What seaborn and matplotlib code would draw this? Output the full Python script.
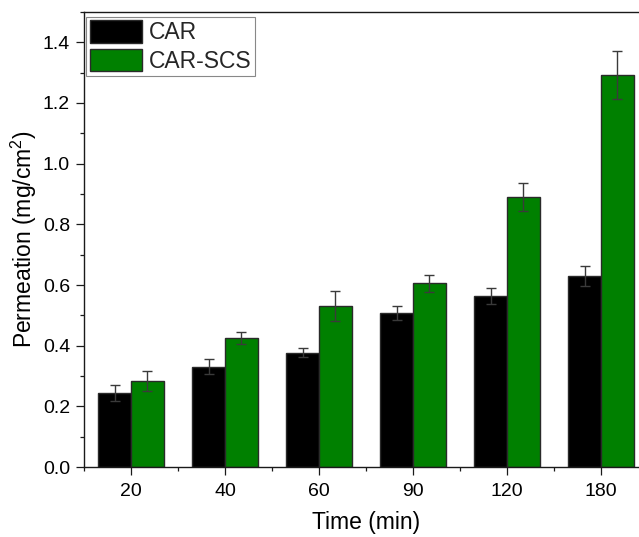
import matplotlib
matplotlib.use("Agg")
import matplotlib.pyplot as plt
from matplotlib.ticker import FixedLocator, MultipleLocator
import numpy as np
import pandas as pd
import seaborn as sns

# Permeation over time for the two formulations
times = ["20", "40", "60", "90", "120", "180"]
car_mean = [0.244, 0.331, 0.377, 0.507, 0.563, 0.629]
car_err = [0.025, 0.026, 0.016, 0.023, 0.026, 0.033]
scs_mean = [0.283, 0.424, 0.531, 0.606, 0.890, 1.292]
scs_err = [0.032, 0.020, 0.050, 0.028, 0.045, 0.080]
groups = ["CAR", "CAR-SCS"]
colors = ["#000000", "#008000"]

df = pd.DataFrame({
    "Time": times * 2,
    "Permeation": car_mean + scs_mean,
    "Group": [groups[0]] * len(times) + [groups[1]] * len(times),
})

sns.set_theme(style="white")
plt.rcParams["font.family"] = ["Liberation Sans", "DejaVu Sans"]
plt.rcParams["mathtext.fontset"] = "custom"
plt.rcParams["mathtext.rm"] = "Liberation Sans"

fig = plt.figure(figsize=(6.39, 5.37), dpi=100)
ax = fig.add_axes([84 / 639, 1 - 467 / 537, (648 - 84) / 639, (467 - 12) / 537])

sns.barplot(data=df, x="Time", y="Permeation", hue="Group", order=times,
            hue_order=groups, palette=colors, saturation=1, width=0.7, gap=0,
            errorbar=None, edgecolor="#2a2a2a", linewidth=1.0, ax=ax)

# error bars centred on each drawn bar
errs = {g: e for g, e in zip(groups, [car_err, scs_err])}
for container, g in zip(ax.containers, groups):
    xs = [p.get_x() + p.get_width() / 2 for p in container.patches]
    hs = [p.get_height() for p in container.patches]
    ax.errorbar(xs, hs, yerr=errs[g], fmt="none", ecolor="#3a3a3a",
                elinewidth=1.0, capsize=3.3, capthick=1.0, zorder=5)

ax.set_xlim(-0.5, 5.5)
ax.set_ylim(0, 1.5)
ax.yaxis.set_major_locator(FixedLocator(np.arange(0, 1.41, 0.2)))
ax.yaxis.set_minor_locator(MultipleLocator(0.1))
ax.xaxis.set_minor_locator(FixedLocator(np.arange(-0.5, 5.6, 1.0)))

for s in ax.spines.values():
    s.set_visible(True)
    s.set_color("#1a1a1a")
    s.set_linewidth(1.0)

ax.tick_params(axis="both", which="major", direction="out", length=6,
               width=0.9, color="#1a1a1a", labelsize=14, pad=4,
               labelcolor="#000000", bottom=True, left=True)
ax.tick_params(axis="x", which="major", pad=5.5)
ax.tick_params(axis="both", which="minor", direction="out", length=3,
               width=0.9, color="#1a1a1a", bottom=True, left=True)
ax.set_yticklabels([f"{v:.1f}" for v in np.arange(0, 1.41, 0.2)])

ax.set_xlabel("Time (min)", fontsize=16.5, color="#000000", labelpad=8)
ax.set_ylabel("Permeation (mg/cm$^2$)", fontsize=16.5, color="#000000", labelpad=3)

leg = ax.legend(loc="upper left", bbox_to_anchor=(0.004, 0.99), fontsize=16.5,
                frameon=True, fancybox=False, edgecolor="#888888",
                framealpha=1, borderpad=0.15, labelspacing=0.2,
                handlelength=2.3, handleheight=1.15, handletextpad=0.3,
                borderaxespad=0)
leg.get_frame().set_linewidth(0.8)

fig.savefig("out.png", dpi=100)
